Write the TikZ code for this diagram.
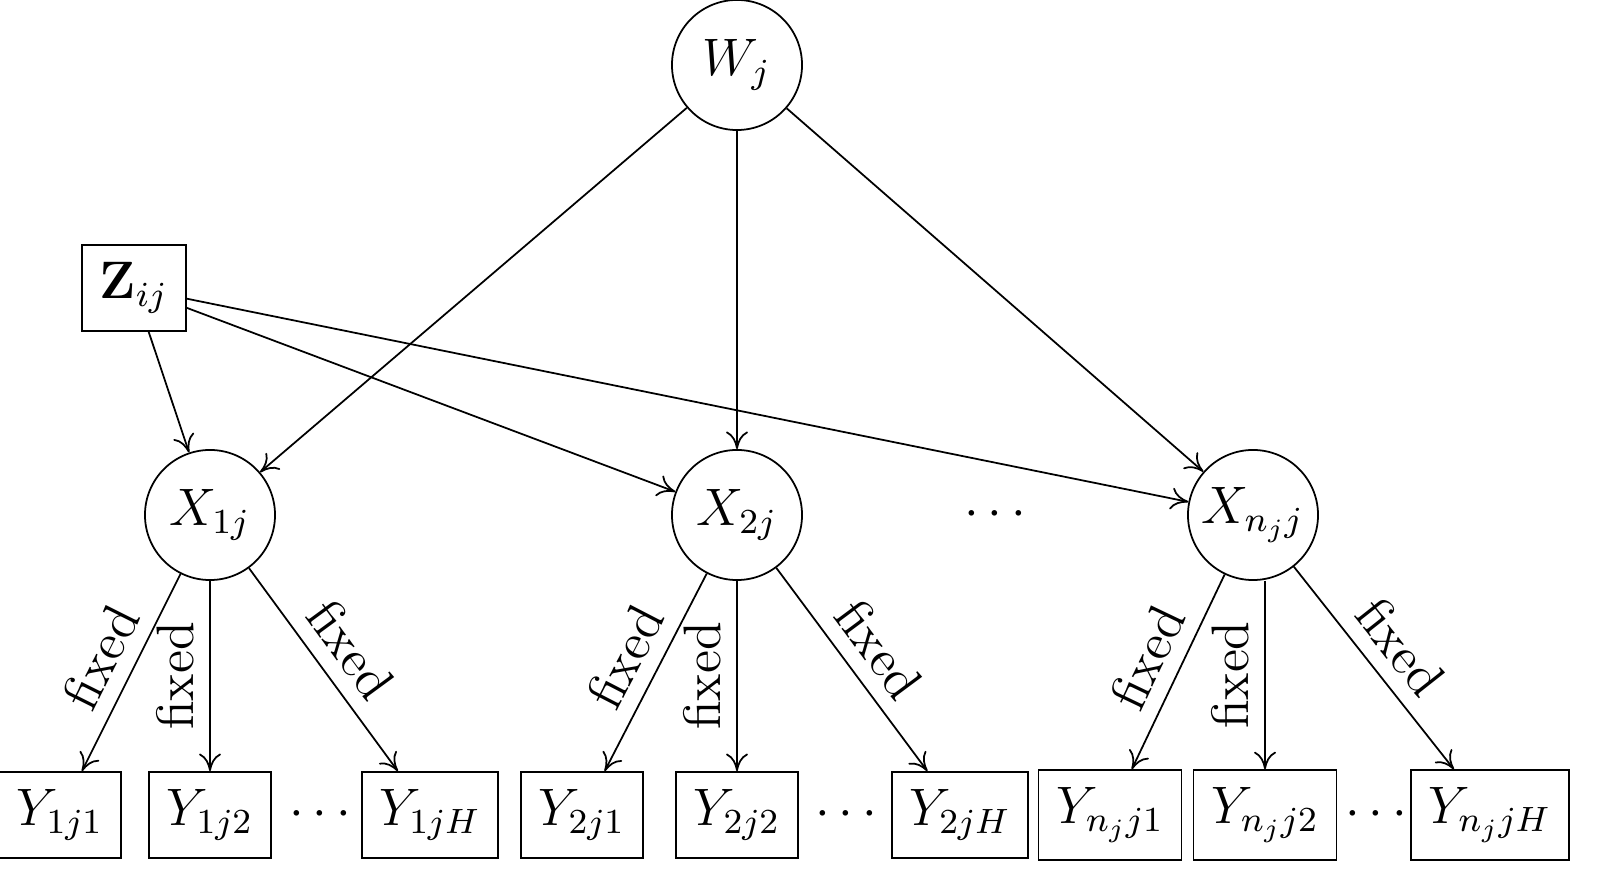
\documentclass[tikz,border=0pt]{standalone}
\usetikzlibrary{arrows.meta}
\begin{document}
\begin{tikzpicture}[x=0.008cm,y=-0.008cm,
  circ/.style={draw,circle,minimum size=1.04cm,inner sep=0pt,font=\large},
  box/.style={draw,rectangle,minimum height=0.64cm,inner sep=4pt,font=\large},
  arr/.style={-{To[length=4pt,width=5pt]}},
  lab/.style={midway,sloped,above,font=\large},
  vlab/.style={midway,rotate=90,above,font=\large}]
\node[circ] (W) at (737,65) {$W_j$};
\node[box,minimum width=0.78cm,minimum height=0.62cm] (Z) at (134,288) {$\mathbf{Z}_{ij}$};
\node[circ] (X1) at (210,515) {$X_{1j}$};
\node[circ] (X2) at (737,515) {$X_{2j}$};
\node[circ] (Xn) at (1253,515) {$X_{n_jj}$};
\node[font=\large] (d0) at (995,515) {$\cdots$};
\node[box] (Y11) at (60,815) {$Y_{1j1}$};
\node[box] (Y12) at (210,815) {$Y_{1j2}$};
\node[font=\large] (d1) at (320,815) {$\cdots$};
\node[box] (Y1H) at (430,815) {$Y_{1jH}$};
\node[box] (Y21) at (582,815) {$Y_{2j1}$};
\node[box] (Y22) at (737,815) {$Y_{2j2}$};
\node[font=\large] (d2) at (846,815) {$\cdots$};
\node[box] (Y2H) at (960,815) {$Y_{2jH}$};
\node[box] (Yn1) at (1110,815) {$Y_{n_jj1}$};
\node[box] (Yn2) at (1265,815) {$Y_{n_jj2}$};
\node[font=\large] (d3) at (1376,815) {$\cdots$};
\node[box] (YnH) at (1490,815) {$Y_{n_jjH}$};
\foreach \t in {X1,X2,Xn} {\draw[arr] (W) -- (\t); \draw[arr] (Z) -- (\t);}
\foreach \x/\a/\b/\c in {X1/Y11/Y12/Y1H,X2/Y21/Y22/Y2H,Xn/Yn1/Yn2/YnH} {
  \draw[arr] (\x) -- node[lab] {fixed} (\a);
  \draw[arr] (\x.south -| \b) -- node[vlab] {fixed} (\b);
  \draw[arr] (\x) -- node[lab] {fixed} (\c);
}
\pgfresetboundingbox
\useasboundingbox (0,0) rectangle (1597,875);
\end{tikzpicture}
\end{document}
